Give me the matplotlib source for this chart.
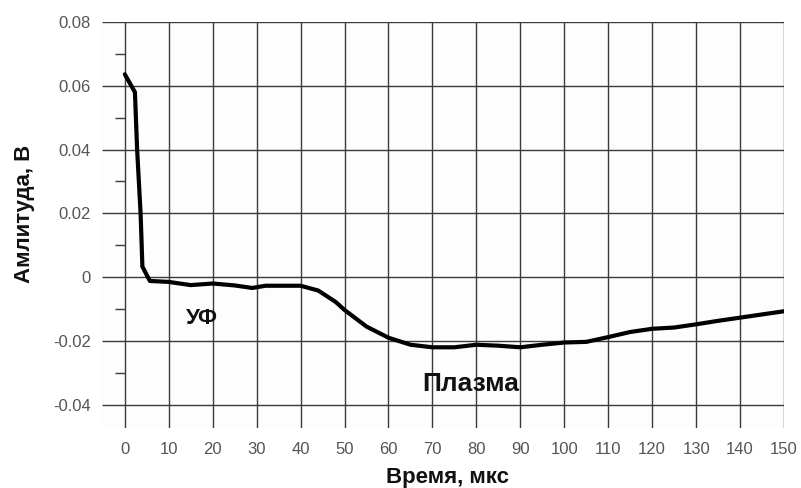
import matplotlib
matplotlib.use("Agg")
import matplotlib.pyplot as plt
import numpy as np

# Data
time_us = [0, 2.3, 2.8, 3.6, 4.0, 5.7, 10, 15, 20, 25, 29, 32, 40, 44, 48,
           50, 55, 60, 65, 70, 75, 80, 85, 90, 95, 100, 105, 110, 115, 120,
           125, 130, 135, 140, 145, 150]
amplitude_v = [0.0636, 0.058, 0.040, 0.0197, 0.0033, -0.0012, -0.0015, -0.0025,
               -0.0020, -0.0026, -0.0034, -0.0027, -0.0027, -0.0042, -0.0078,
               -0.0103, -0.0155, -0.0190, -0.0212, -0.0220, -0.0220, -0.0212,
               -0.0215, -0.0220, -0.0212, -0.0205, -0.0203, -0.0188, -0.0172,
               -0.0162, -0.0158, -0.0148, -0.0137, -0.0127, -0.0117, -0.0107]

x_ticks = list(range(0, 151, 10))
y_ticks = [-0.04, -0.02, 0, 0.02, 0.04, 0.06, 0.08]
y_tick_labels = ["-0.04", "-0.02", "0", "0.02", "0.04", "0.06", "0.08"]
y_minor = [-0.03, -0.01, 0.01, 0.03, 0.05, 0.07]

annotations = [("УФ", 17.6, -0.013, 16), ("Плазма", 78.6, -0.0334, 19)]

x_label = "Время, мкс"
y_label = "Амлитуда, В"

plt.rcParams['font.family'] = ['Liberation Sans', 'DejaVu Sans']

fig = plt.figure(figsize=(8.01, 4.88), dpi=100)
ax = fig.add_axes([0.1273, 0.123, 0.8515, 0.8319])

xmin, xmax = -5.2, 150
ymin, ymax = -0.0473, 0.08
ax.set_xlim(xmin, xmax)
ax.set_ylim(ymin, ymax)
for s in ax.spines.values():
    s.set_visible(False)
ax.set_facecolor('#fdfdfd')

grid_color = '#3a3a3a'
ax.hlines(y_ticks, xmin, xmax, colors=grid_color, linewidth=1.0, zorder=1)
ax.vlines(x_ticks, ymin, ymax, colors=grid_color, linewidth=1.0, zorder=1)
ax.hlines(y_minor, -2.3, 0, colors=grid_color, linewidth=1.0, zorder=1)

ax.plot(time_us, amplitude_v, color='black', linewidth=3.0, zorder=3,
        solid_joinstyle='round', solid_capstyle='round')

for txt, tx, ty, fs in annotations:
    ax.text(tx, ty, txt, fontsize=fs, fontweight='bold', ha='center',
            va='center', color='#111111', zorder=4)

ax.set_xticks(x_ticks)
ax.set_xticklabels([str(v) for v in x_ticks])
ax.set_yticks(y_ticks)
ax.set_yticklabels(y_tick_labels)
ax.tick_params(axis='both', length=0, labelsize=12, labelcolor='#555555')
ax.tick_params(axis='x', pad=10)
ax.tick_params(axis='y', pad=8)

fig.text(448 / 801, 1 - 483 / 488, x_label, fontsize=16, fontweight='bold',
         color='#111111', ha='center', va='baseline')
fig.text(30 / 801, 1 - 214 / 488, y_label, fontsize=16, fontweight='bold',
         color='#111111', ha='center', va='baseline', rotation=90,
         rotation_mode='anchor')

fig.savefig("out.png", dpi=100, facecolor='white')
